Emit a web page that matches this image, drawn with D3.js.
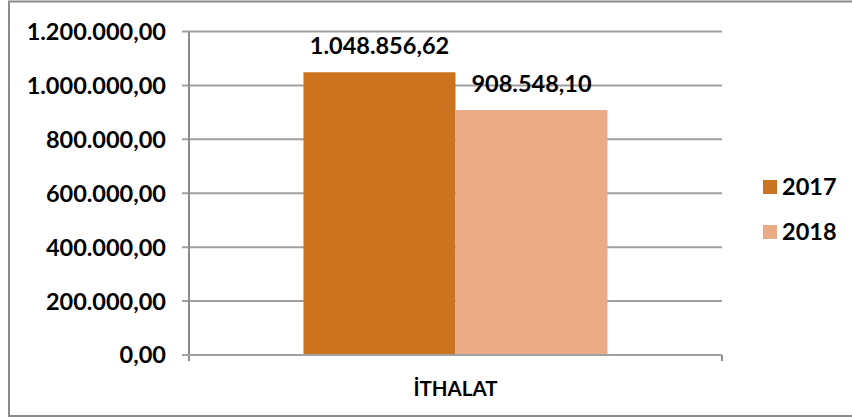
<!DOCTYPE html>
<html><head><meta charset="utf-8">
<script src="https://cdn.jsdelivr.net/npm/d3@7"></script>
<style>
html,body{margin:0;padding:0;background:#fff;}
svg{display:block;}
text{font-family:"Lato","Open Sans",sans-serif;font-weight:700;fill:#000;}
</style></head>
<body>
<svg id="c" width="852" height="417"></svg>
<script>
const categories = ["İTHALAT"];
const seriesNames = ["2017", "2018"];
const values2017 = [1048856.62];
const values2018 = [908548.10];
const valueLabels2017 = ["1.048.856,62"];
const valueLabels2018 = ["908.548,10"];
const tickValues = [0, 200000, 400000, 600000, 800000, 1000000, 1200000];
const tickLabels = ["0,00", "200.000,00", "400.000,00", "600.000,00", "800.000,00", "1.000.000,00", "1.200.000,00"];
const colors = ["#CC731F", "#EBAB87"];

const svg = d3.select("#c");
svg.append("rect").attr("x",9).attr("y",1.5).attr("width",852).attr("height",414.5)
  .attr("fill","#fff").attr("stroke","#8c8c8c").attr("stroke-width",2);

const pLeft = 189, pRight = 722, pTop = 31.5, pBottom = 355;
const x0 = d3.scaleBand().domain(categories).range([pLeft, pRight]).paddingInner(0).paddingOuter(0);
const x1 = d3.scaleBand().domain(seriesNames).range([0, x0.bandwidth()]).paddingOuter(0.753).paddingInner(0);
const y = d3.scaleLinear().domain([0, 1200000]).range([pBottom, pTop]);

// gridlines
svg.append("g").selectAll("line").data(tickValues).join("line")
  .attr("x1", pLeft - 7).attr("x2", pRight)
  .attr("y1", d => y(d)).attr("y2", d => y(d))
  .attr("stroke", "#a0a0a0").attr("stroke-width", 2);

// y axis line
svg.append("line").attr("x1",pLeft).attr("x2",pLeft).attr("y1",y(1200000)).attr("y2",pBottom+6)
  .attr("stroke","#8c8c8c").attr("stroke-width",2);
// x axis end tick
svg.append("line").attr("x1",pRight).attr("x2",pRight).attr("y1",pBottom).attr("y2",pBottom+6)
  .attr("stroke","#8c8c8c").attr("stroke-width",2);

// y labels
svg.append("g").selectAll("text").data(tickValues).join("text")
  .attr("x", 166).attr("y", d => y(d)).attr("dy","0.36em")
  .attr("text-anchor","end").style("font-size","23.5px")
  .text((d,i) => tickLabels[i]);

const series = [
  {name: seriesNames[0], vals: values2017, labels: valueLabels2017, color: colors[0]},
  {name: seriesNames[1], vals: values2018, labels: valueLabels2018, color: colors[1]}
];

series.forEach(s => {
  svg.append("g").selectAll("rect").data(categories).join("rect")
    .attr("x", (c) => x0(c) + x1(s.name))
    .attr("width", x1.bandwidth())
    .attr("y", (c,i) => y(s.vals[i]))
    .attr("height", (c,i) => pBottom - y(s.vals[i]))
    .attr("fill", s.color);
});
// baseline over bars
svg.append("line").attr("x1",pLeft-7).attr("x2",pRight).attr("y1",pBottom).attr("y2",pBottom)
  .attr("stroke","#a0a0a0").attr("stroke-width",2);

series.forEach(s => {
  svg.append("g").selectAll("text").data(categories).join("text")
    .attr("x", (c) => x0(c) + x1(s.name) + x1.bandwidth()/2)
    .attr("y", (c,i) => y(s.vals[i]) - 18)
    .attr("text-anchor","middle").style("font-size","23.5px")
    .text((c,i) => s.labels[i]);
});

// category label
svg.append("g").selectAll("text").data(categories).join("text")
  .attr("x", c => x0(c) + x0.bandwidth()/2).attr("y", 395.5)
  .attr("text-anchor","middle").style("font-size","20.5px")
  .text(c => c);

// legend
const lg = svg.append("g");
series.forEach((s,i) => {
  lg.append("rect").attr("x",763).attr("y",180 + i*45).attr("width",14).attr("height",14).attr("fill",s.color);
  lg.append("text").attr("x",782).attr("y",187 + i*45).attr("dy","0.36em").style("font-size","23.5px").text(s.name);
});
</script>
</body></html>
